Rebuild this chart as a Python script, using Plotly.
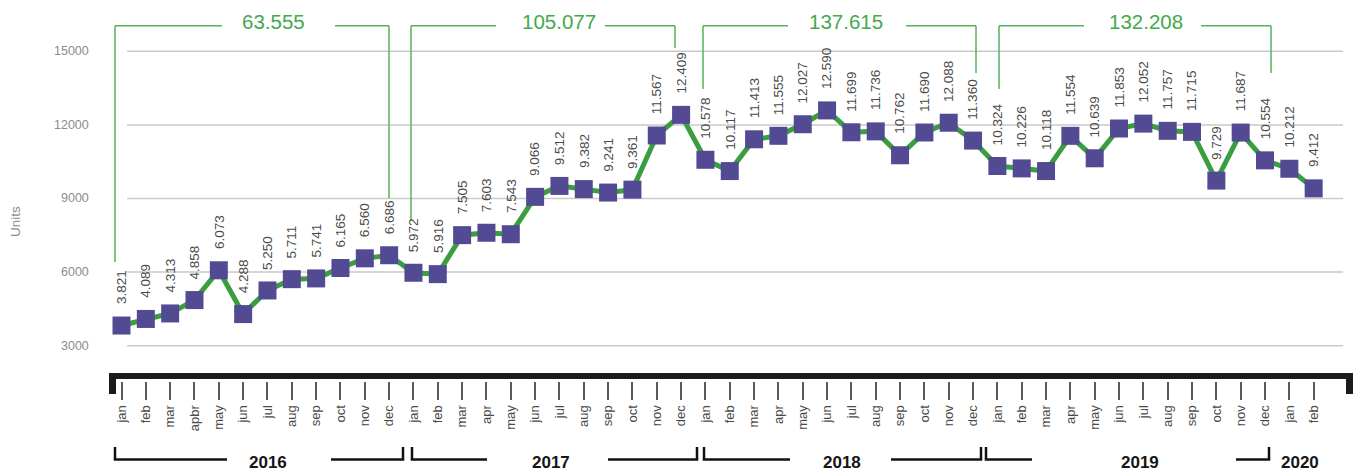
import plotly.graph_objects as go

# ---------------- data ----------------
months_2016 = ["jan", "feb", "mar", "apbr", "may", "jun", "jul", "aug", "sep", "oct", "nov", "dec"]
months_std = ["jan", "feb", "mar", "apr", "may", "jun", "jul", "aug", "sep", "oct", "nov", "dec"]
months_2020 = ["jan", "feb"]
month_labels = months_2016 + months_std + months_std + months_std + months_2020

units_2016 = [3821, 4089, 4313, 4858, 6073, 4288, 5250, 5711, 5741, 6165, 6560, 6686]
units_2017 = [5972, 5916, 7505, 7603, 7543, 9066, 9512, 9382, 9241, 9361, 11567, 12409]
units_2018 = [10578, 10117, 11413, 11555, 12027, 12590, 11699, 11736, 10762, 11690, 12088, 11360]
units_2019 = [10324, 10226, 10118, 11554, 10639, 11853, 12052, 11757, 11715, 9729, 11687, 10554]
units_2020 = [10212, 9412]
units = units_2016 + units_2017 + units_2018 + units_2019 + units_2020

year_labels = ["2016", "2017", "2018", "2019", "2020"]
year_totals = [63555, 105077, 137615, 132208]
y_ticks = [3000, 6000, 9000, 12000, 15000]


def fmt(v):
    return f"{v:,}".replace(",", ".")


# ---------------- geometry helpers (layout only) ----------------
W, H = 1354, 472
PLOT_BOTTOM = 381          # pixel row of the plot-area bottom
X0_PX, DX_PX = 121.5, 24.33  # pixel of first month, pixel spacing
Y15_PX, PX_PER_UNIT = 51.3, 0.02453

x_range = [(0 - X0_PX) / DX_PX, (W - X0_PX) / DX_PX]
y_range = [15000 - (PLOT_BOTTOM - Y15_PX) / PX_PER_UNIT, 15000 + Y15_PX / PX_PER_UNIT]


def px(p):
    return p / W


def py(p):
    return (PLOT_BOTTOM - p) / PLOT_BOTTOM


shapes = []
annotations = []

GREEN_LINE = "#55b25a"
GREEN_TEXT = "#43aa4b"
FONT = "Liberation Sans, Arial, sans-serif"


def seg(x0, y0, x1, y1, color, width):
    shapes.append(dict(type="line", xref="paper", yref="paper",
                       x0=px(x0), y0=py(y0), x1=px(x1), y1=py(y1),
                       line=dict(color=color, width=width), layer="above"))


def rect(x0, y0, x1, y1, color):
    shapes.append(dict(type="rect", xref="paper", yref="paper",
                       x0=px(x0), y0=py(y0), x1=px(x1), y1=py(y1),
                       fillcolor=color, line=dict(width=0), layer="above"))


# gridlines
for v in y_ticks:
    shapes.append(dict(type="line", xref="paper", yref="y", x0=px(127), x1=px(1343),
                       y0=v, y1=v, line=dict(color="#c9c9c9", width=1.5), layer="below"))
    annotations.append(dict(xref="paper", yref="y", x=px(91), y=v, text=str(v),
                            xanchor="right", yanchor="middle", showarrow=False,
                            font=dict(family=FONT, size=12.5, color="#8c8c8c")))

annotations.append(dict(xref="paper", yref="paper", x=px(15), y=py(222), text="Units",
                        textangle=-90, showarrow=False, xanchor="center", yanchor="middle",
                        font=dict(family=FONT, size=13.5, color="#8c8c8c")))

# top green brackets: (left x, left drop y, left line end, text x, right line start, right x, right drop y)
top_brackets = [
    (115, 262, 222, 273, 335, 389, 198),
    (411, 220, 496, 559, 605, 675, 48),
    (703, 89, 788, 846, 906, 976, 73),
    (999, 89, 1084, 1146, 1201, 1271, 73),
]
for (lx, ly, le, tx, rs, rx, ry), tot in zip(top_brackets, year_totals):
    seg(lx, 25.7, lx, ly, GREEN_LINE, 1.5)
    seg(lx, 25.7, le, 25.7, GREEN_LINE, 1.5)
    seg(rs, 25.7, rx, 25.7, GREEN_LINE, 1.5)
    seg(rx, 25.7, rx, ry, GREEN_LINE, 1.5)
    annotations.append(dict(xref="paper", yref="paper", x=px(tx), y=py(21), text=fmt(tot),
                            showarrow=False, xanchor="center", yanchor="middle",
                            font=dict(family=FONT, size=20.5, color=GREEN_TEXT)))

# black axis bar with end caps
rect(109, 373, 1353, 379, "#1b1b1b")
rect(109, 373, 116, 394, "#1b1b1b")
rect(1346, 373, 1353, 394, "#1b1b1b")

# bottom year brackets
BY, BTOP = 459.5, 447
year_brackets = [
    # (left vertical x, left line end, text x, right line start, right vertical x)
    (115, 227, 268, 331, 403),
    (412, 487, 551, 608, 697),
    (704, 790, 842, 891, 981),
    (986, 1032, 1140, 1236, 1269),
]
for (lx, le, tx, rs, rx), yl in zip(year_brackets, year_labels[:4]):
    seg(lx, BTOP, lx, BY, "#111111", 2.5)
    seg(lx - 1.2, BY, le, BY, "#111111", 2.5)
    seg(rs, BY, rx + 1.2, BY, "#111111", 2.5)
    seg(rx, BTOP, rx, BY, "#111111", 2.5)
    annotations.append(dict(xref="paper", yref="paper", x=px(tx), y=py(462), text=f"<b>{yl}</b>",
                            showarrow=False, xanchor="center", yanchor="middle",
                            font=dict(family=FONT, size=17, color="#151515")))
annotations.append(dict(xref="paper", yref="paper", x=px(1300), y=py(462),
                        text=f"<b>{year_labels[4]}</b>", showarrow=False,
                        xanchor="center", yanchor="middle",
                        font=dict(family=FONT, size=17, color="#151515")))

# value labels
for i, v in enumerate(units):
    annotations.append(dict(xref="x", yref="y", x=i, y=v, text=fmt(v), textangle=-90,
                            showarrow=False, xanchor="center", yanchor="bottom", yshift=19,
                            font=dict(family=FONT, size=13.5, color="#4a4a4a")))

fig = go.Figure()
fig.add_trace(go.Scatter(
    x=list(range(len(units))), y=units, mode="lines+markers",
    line=dict(color="#3a9e3e", width=5),
    marker=dict(symbol="square", size=18, color="#524a93", line=dict(width=0)),
    cliponaxis=False, hoverinfo="skip", showlegend=False,
))

fig.update_layout(
    width=W, height=H,
    margin=dict(l=0, r=0, t=0, b=H - PLOT_BOTTOM),
    paper_bgcolor="white", plot_bgcolor="white",
    shapes=shapes, annotations=annotations,
    xaxis=dict(range=x_range, tickmode="array", tickvals=list(range(len(units))),
               ticktext=month_labels, tickangle=-90, ticks="outside", ticklen=18,
               tickwidth=1.5, tickcolor="#5a5a5a", showgrid=False, zeroline=False,
               showline=False, tickfont=dict(family=FONT, size=13, color="#4a4a4a")),
    yaxis=dict(range=y_range, showgrid=False, zeroline=False, showticklabels=False,
               showline=False),
    font=dict(family=FONT),
)

fig.write_html("out.html", config={"displayModeBar": False},
               post_script="document.body.style.margin='0';document.body.style.overflow='hidden';")
